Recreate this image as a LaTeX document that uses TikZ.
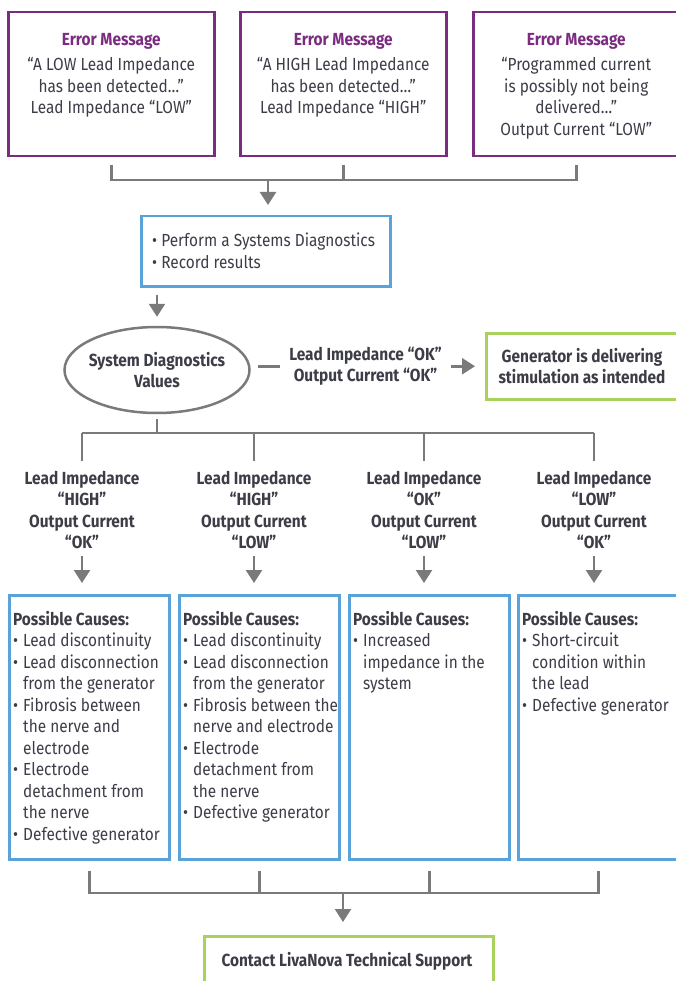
\documentclass[tikz,border=0pt]{standalone}
\usepackage{fontspec}
\setmainfont{Fira Sans}[FakeStretch=0.88]
\usetikzlibrary{arrows.meta,positioning,shapes.geometric}

\definecolor{errpurple}{HTML}{7B2C80}
\definecolor{stepblue}{HTML}{5AA2DA}
\definecolor{okgreen}{HTML}{A8D25C}
\definecolor{linegray}{HTML}{7A7A7A}
\definecolor{txtgray}{HTML}{3C3D47}

% bullet and hanging indent for the cause lists
\newcommand{\bitem}{\makebox[10pt][l]{•}}
\newcommand{\bcont}{\hspace*{10pt}}

\tikzset{
  every node/.style={font=\fontsize{17.5}{21.5}\selectfont, text=txtgray},
  errbox/.style={draw=errpurple, line width=2.5pt, minimum width=206pt, minimum height=144pt, anchor=north west},
  stepbox/.style={draw=stepblue, line width=2.5pt, anchor=north west},
  causebox/.style={draw=stepblue, line width=2.5pt, minimum width=160pt, minimum height=264pt, anchor=north west},
  okbox/.style={draw=okgreen, line width=2.5pt, anchor=north west},
  boldtext/.style={font=\fontsize{17.5}{21.5}\selectfont\bfseries, align=center},
  conn/.style={draw=linegray, line width=2.5pt},
  arr/.style={conn, -{Triangle[width=16pt,length=13pt]}},
}

\begin{document}
\begin{tikzpicture}[x=1pt,y=-1pt]
    \useasboundingbox (0,0) rectangle (676,981);

    % error messages
    \node[errbox] (err1) at (7,11) {};
    \node[errbox] (err2) at (239,11) {};
    \node[errbox] (err3) at (472,11) {};
    \node[align=center, anchor=north, inner sep=0pt] (err1t) at (err1.north |- 0,33)
        {\textcolor{errpurple}{\textbf{Error Message}}\\[4pt]“A LOW Lead Impedance\\has been detected…”\\Lead Impedance “LOW”};
    \node[align=center, anchor=north, inner sep=0pt] (err2t) at (err2.north |- 0,33)
        {\textcolor{errpurple}{\textbf{Error Message}}\\[4pt]“A HIGH Lead Impedance\\has been detected…”\\Lead Impedance “HIGH”};
    \node[align=center, anchor=north, inner sep=0pt] (err3t) at (err3.north |- 0,33)
        {\textcolor{errpurple}{\textbf{Error Message}}\\[4pt]“Programmed current\\is possibly not being\\delivered…”\\Output Current “LOW”};

    % run diagnostics
    \node[stepbox, minimum width=249pt, minimum height=70pt] (diag) at (140,215) {};
    \node[align=left, anchor=north west, inner sep=0pt] (diagt) at (152,233)
        {• Perform a Systems Diagnostics\\• Record results};

    \coordinate (topj) at (268,180);
    \draw[conn] ([yshift=-8pt]err1.south) -- (err1.south |- topj) -- (err3.south |- topj) -- ([yshift=-8pt]err3.south);
    \draw[conn] ([yshift=-8pt]err2.south) -- (err2.south |- topj);
    \draw[arr, shorten >=10pt] (topj) -- (topj |- diag.north);

    % diagnostics values
    \node[ellipse, draw=linegray, line width=2.5pt, inner xsep=-5pt, inner ysep=0pt, minimum width=185pt, minimum height=86pt, boldtext] (sdv) at (157,370)
        {System Diagnostics\\Values};
    \draw[arr, shorten <=7pt, shorten >=9pt] (diag.south -| sdv) -- (sdv.north);

    \node[okbox, minimum width=196pt, minimum height=66pt] (gen) at (485,332) {};
    \node[boldtext, inner sep=0pt] (gent) at (582,366) {Generator is delivering\\stimulation as intended};
    \draw[arr, shorten <=7pt, shorten >=10pt] (sdv.east |- gen.west) --
        node[boldtext, fill=white, inner xsep=9pt, inner ysep=2pt, pos=0.49] (okl) {Lead Impedance “OK”\\Output Current “OK”} (gen.west);

    % branch to the four cases
    \coordinate (midj) at (157,433);
    \node[boldtext, inner sep=0pt] (lab1) at (82,510) {Lead Impedance\\“HIGH”\\Output Current\\“OK”};
    \node[boldtext, inner sep=0pt] (lab2) at (254,510) {Lead Impedance\\“HIGH”\\Output Current\\“LOW”};
    \node[boldtext, inner sep=0pt] (lab3) at (424,510) {Lead Impedance\\“OK”\\Output Current\\“LOW”};
    \node[boldtext, inner sep=0pt] (lab4) at (594,510) {Lead Impedance\\“LOW”\\Output Current\\“OK”};
    \draw[conn, shorten <=5pt] (sdv.south) -- (midj);
    \draw[conn] (lab1.north |- midj) -- (lab4.north |- midj);
    \draw[conn, shorten >=10pt] (lab1.north |- midj) -- (lab1.north);
    \draw[conn, shorten >=10pt] (lab2.north |- midj) -- (lab2.north);
    \draw[conn, shorten >=10pt] (lab3.north |- midj) -- (lab3.north);
    \draw[conn, shorten >=10pt] (lab4.north |- midj) -- (lab4.north);

    % possible causes
    \node[causebox] (cause1) at (8,594) {};
    \node[causebox] (cause2) at (178,594) {};
    \node[causebox] (cause3) at (348,594) {};
    \node[causebox] (cause4) at (517,594) {};
    \draw[arr, shorten <=7pt, shorten >=11pt] (lab1.south) -- (lab1.south |- cause1.north);
    \draw[arr, shorten <=7pt, shorten >=11pt] (lab2.south) -- (lab2.south |- cause2.north);
    \draw[arr, shorten <=7pt, shorten >=11pt] (lab3.south) -- (lab3.south |- cause3.north);
    \draw[arr, shorten <=7pt, shorten >=11pt] (lab4.south) -- (lab4.south |- cause4.north);

    \node[align=left, anchor=north west, inner sep=0pt] (cause1t) at (13,611)
        {\textbf{Possible Causes:}\\\bitem Lead discontinuity\\\bitem Lead disconnection\\\bcont from the generator\\
         \bitem Fibrosis between\\\bcont the nerve and\\\bcont electrode\\\bitem Electrode\\\bcont detachment from\\
         \bcont the nerve\\\bitem Defective generator};
    \node[align=left, anchor=north west, inner sep=0pt] (cause2t) at (183,611)
        {\textbf{Possible Causes:}\\\bitem Lead discontinuity\\\bitem Lead disconnection\\\bcont from the generator\\
         \bitem Fibrosis between the\\\bcont nerve and electrode\\\bitem Electrode\\\bcont detachment from\\
         \bcont the nerve\\\bitem Defective generator};
    \node[align=left, anchor=north west, inner sep=0pt] (cause3t) at (353,611)
        {\textbf{Possible Causes:}\\\bitem Increased\\\bcont impedance in the\\\bcont system};
    \node[align=left, anchor=north west, inner sep=0pt] (cause4t) at (522,611)
        {\textbf{Possible Causes:}\\\bitem Short-circuit\\\bcont condition within\\\bcont the lead\\\bitem Defective generator};

    % contact support
    \node[okbox, minimum width=289pt, minimum height=58pt] (sup) at (203,935) {};
    \node[boldtext, inner sep=0pt] (supt) at (347,961) {Contact LivaNova Technical Support};
    \coordinate (botj) at (343,893);
    \draw[conn] ([yshift=-10pt]cause1.south) -- (cause1.south |- botj) -- (cause4.south |- botj) -- ([yshift=-10pt]cause4.south);
    \draw[conn] ([yshift=-10pt]cause2.south) -- (cause2.south |- botj);
    \draw[conn] ([yshift=-10pt]cause3.south) -- (cause3.south |- botj);
    \draw[arr, shorten >=13pt] (botj) -- (botj |- sup.north);
\end{tikzpicture}
\end{document}
